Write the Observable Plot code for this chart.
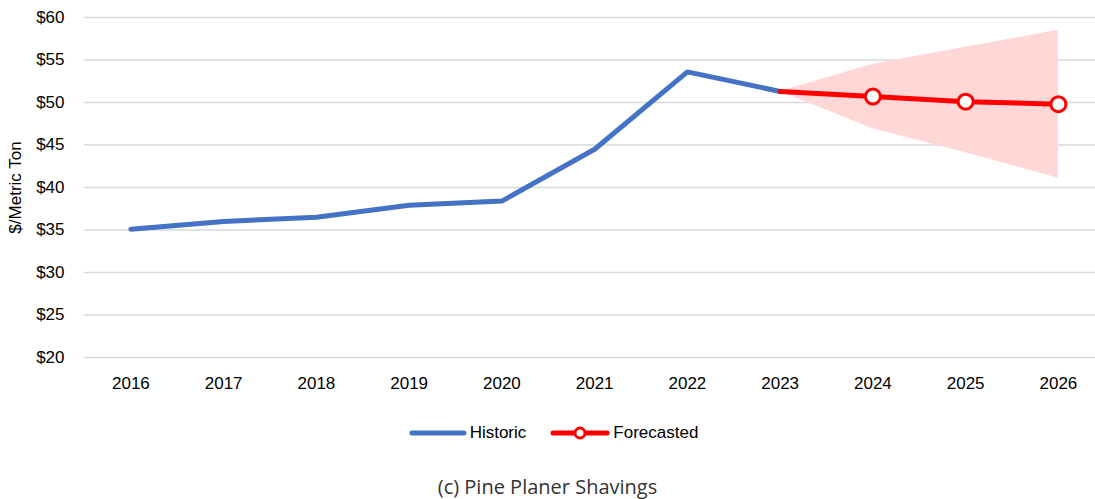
<!DOCTYPE html>
<html>
<head>
<meta charset="utf-8">
<script src="https://cdn.jsdelivr.net/npm/d3@7"></script>
<script src="https://cdn.jsdelivr.net/npm/@observablehq/plot@0.6"></script>
<style>
  html, body { margin: 0; padding: 0; background: #fff; }
  #wrap { width: 1095px; font-family: "Liberation Sans", Arial, sans-serif; }
  .legend { display: flex; justify-content: center; align-items: center; height: 18px; margin-top: 24px; font-size: 17px; color: #000; padding-left: 12px; }
  .legend .item { display: flex; align-items: center; margin: 0 12px; }
  .legend svg { margin-right: 3px; }
  .caption { text-align: center; font-family: "Open Sans", "Noto Sans", sans-serif; font-size: 20px; line-height: 24px; color: #333; margin-top: 33px; }
</style>
</head>
<body>
<div id="wrap">
  <div id="chart"></div>
  <div class="legend">
    <div class="item"><svg width="58" height="12"><line x1="3" y1="6" x2="55" y2="6" stroke="#4472C4" stroke-width="5" stroke-linecap="round"/></svg><span>Historic</span></div>
    <div class="item"><svg width="60" height="16"><line x1="3" y1="8" x2="57" y2="8" stroke="#FF0000" stroke-width="5" stroke-linecap="round"/><circle cx="30" cy="8" r="5" fill="#fff" stroke="#FF0000" stroke-width="3"/></svg><span>Forecasted</span></div>
  </div>
  <div class="caption">(c) Pine Planer Shavings</div>
</div>
<script>
const years = [2016, 2017, 2018, 2019, 2020, 2021, 2022, 2023, 2024, 2025, 2026];
const historicYears = [2016, 2017, 2018, 2019, 2020, 2021, 2022, 2023];
const historicValues = [35.1, 36.0, 36.5, 37.9, 38.4, 44.5, 53.6, 51.3];
const forecastYears = [2023, 2024, 2025, 2026];
const forecastValues = [51.3, 50.7, 50.1, 49.8];
const forecastLow = [51.3, 46.9, 44.1, 41.1];
const forecastHigh = [51.3, 54.5, 56.5, 58.5];
const yTicks = [20, 25, 30, 35, 40, 45, 50, 55, 60];

const historic = historicYears.map((y, i) => ({year: y, value: historicValues[i]}));
const forecast = forecastYears.map((y, i) => ({year: y, value: forecastValues[i], low: forecastLow[i], high: forecastHigh[i]}));

const plot = Plot.plot({
  width: 1095,
  height: 400,
  marginTop: 17,
  marginBottom: 43,
  marginLeft: 84,
  marginRight: 0,
  style: {fontFamily: "'Liberation Sans', Arial, sans-serif", fontSize: "17px", color: "#000", background: "#fff"},
  x: {domain: [2015.5, 2026.4], ticks: years, tickFormat: d => String(d), tickSize: 0, tickPadding: 19, label: null},
  y: {domain: [20, 60], ticks: yTicks, tickFormat: d => "$" + d, tickSize: 0, tickPadding: 20,
      label: "$/Metric Ton", labelAnchor: "center", labelArrow: "none", labelOffset: 76},
  marks: [
    Plot.ruleY(yTicks, {stroke: "#d9d9d9", strokeWidth: 1.5}),
    Plot.areaY(forecast, {x: "year", y1: "low", y2: "high", fill: "#FFD7D7", fillOpacity: 1}),
    Plot.line(historic, {x: "year", y: "value", stroke: "#4472C4", strokeWidth: 5, strokeLinecap: "round", strokeLinejoin: "round"}),
    Plot.line(forecast, {x: "year", y: "value", stroke: "#FF0000", strokeWidth: 5, strokeLinejoin: "round"}),
    Plot.dot(forecast.slice(1), {x: "year", y: "value", r: 7.5, fill: "#fff", stroke: "#FF0000", strokeWidth: 3})
  ]
});
document.getElementById("chart").appendChild(plot);
</script>
</body>
</html>
